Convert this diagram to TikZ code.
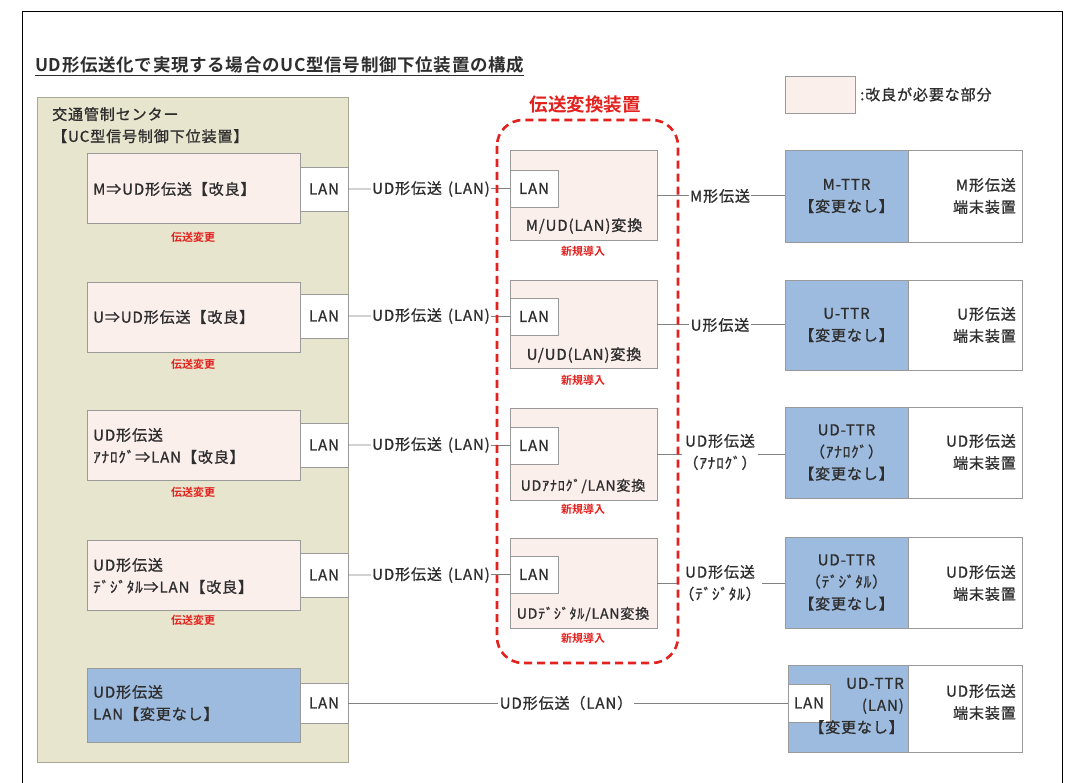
\documentclass[tikz,border=0pt]{standalone}
\usepackage{fontspec}
\newfontfamily\jp[LetterSpace=6,FakeBold=1]{Noto Sans CJK JP}
\newfontfamily\jpb{Noto Sans CJK JP Bold}
\newfontfamily\jpbt[LetterSpace=4]{Noto Sans CJK JP Bold}
\definecolor{textc}{HTML}{2E2E2E}
\definecolor{redc}{HTML}{E3211E}
\definecolor{olivefill}{HTML}{E7E5CE}
\definecolor{olivedraw}{HTML}{A9A893}
\definecolor{pinkfill}{HTML}{FBEFEC}
\definecolor{bluefill}{HTML}{9DBBDF}
\definecolor{graydraw}{HTML}{9A9A9A}
\definecolor{linec}{HTML}{808080}
\tikzset{
  boxbase/.style={inner sep=0pt, outer sep=0pt, anchor=north west, line width=0.8pt},
  olivebox/.style={boxbase, draw=olivedraw, fill=olivefill},
  pinkbox/.style={boxbase, draw=graydraw, fill=pinkfill},
  bluebox/.style={boxbase, draw=graydraw, fill=bluefill},
  whitebox/.style={boxbase, draw=graydraw, fill=white},
  txt/.style={inner sep=0pt, text=textc, font=\jp\fontsize{15}{22}\selectfont},
  smalltxt/.style={inner sep=0pt, text=textc, font=\jp\fontsize{14}{21}\selectfont},
  redtxt/.style={inner sep=0pt, text=redc, font=\jpb\fontsize{11}{13}\selectfont},
  conn/.style={draw=linec, line width=0.8pt},
  lbl/.style={txt, fill=white, inner sep=1.5pt},
}
\newcommand{\udlan}{UD形伝送\hspace{6pt}(LAN)}
\begin{document}
\begin{tikzpicture}[x=1pt,y=-1pt]
\useasboundingbox (0,0) rectangle (1069,783);
\fill[white] (0,0) rectangle (1069,783);
% page frame
\draw[line width=1pt, black] (22,800) -- (22,12) -- (1062,12) -- (1062,800);

% title
\node[inner sep=0pt, anchor=west, text=textc, font=\jpbt\fontsize{17.5}{20}\selectfont] (title) at (35,66) {\underline{UD形伝送化で実現する場合のUC型信号制御下位装置の構成}};

% legend
\node[pinkbox, minimum width=70pt, minimum height=37pt] (legbox) at (785,76) {};
\node[txt, anchor=west] (legtxt) at ([xshift=5pt]legbox.east) {:改良が必要な部分};

% left big box
\node[olivebox, minimum width=311pt, minimum height=665pt] (center) at (37,97) {};
\node[txt, anchor=north west, align=left] (centertxt) at (52,107) {交通管制センター\\【UC型信号制御下位装置】};

% ---- left rows
\node[pinkbox, minimum width=213pt, minimum height=70pt] (L1) at (87,153) {};
\node[txt, anchor=west] (L1t) at (93,189) {M⇒UD形伝送【改良】};
\node[whitebox, minimum width=48pt, minimum height=44pt] (LAN1) at (300,167) {};
\node[txt] (LAN1t) at (LAN1.center) {LAN};
\node[redtxt] (R1) at (193,237) {伝送変更};

\node[pinkbox, minimum width=213pt, minimum height=70pt] (L2) at (87,282) {};
\node[txt, anchor=west] (L2t) at (93,317) {U⇒UD形伝送【改良】};
\node[whitebox, minimum width=48pt, minimum height=44pt] (LAN2) at (300,294) {};
\node[txt] (LAN2t) at (LAN2.center) {LAN};
\node[redtxt] (R2) at (193,364) {伝送変更};

\node[pinkbox, minimum width=213pt, minimum height=70pt] (L3) at (87,410) {};
\node[txt, anchor=west, align=left] (L3t) at (93,446) {UD形伝送\\ｱﾅﾛｸﾞ⇒LAN【改良】};
\node[whitebox, minimum width=48pt, minimum height=44pt] (LAN3) at (300,423) {};
\node[txt] (LAN3t) at (LAN3.center) {LAN};
\node[redtxt] (R3) at (193,492) {伝送変更};

\node[pinkbox, minimum width=213pt, minimum height=70pt] (L4) at (87,540) {};
\node[txt, anchor=west, align=left] (L4t) at (93,576) {UD形伝送\\ﾃﾞｼﾞﾀﾙ⇒LAN【改良】};
\node[whitebox, minimum width=48pt, minimum height=44pt] (LAN4) at (300,553) {};
\node[txt] (LAN4t) at (LAN4.center) {LAN};
\node[redtxt] (R4) at (193,620) {伝送変更};

\node[bluebox, minimum width=213pt, minimum height=74pt] (L5) at (87,668) {};
\node[txt, anchor=west, align=left] (L5t) at (93,703) {UD形伝送\\LAN【変更なし】};
\node[whitebox, minimum width=48pt, minimum height=40pt] (LAN5) at (300,683) {};
\node[txt] (LAN5t) at (LAN5.center) {LAN};

% ---- middle converter boxes
\node[pinkbox, minimum width=147pt, minimum height=90pt] (M1) at (510,150) {};
\node[whitebox, minimum width=48pt, minimum height=37pt] (ML1) at (510,170) {};
\node[txt] (ML1t) at (ML1.center) {LAN};
\node[txt] (M1t) at (584,226) {M/UD(LAN)変換};
\node[redtxt] (N1) at (583,251) {新規導入};

\node[pinkbox, minimum width=147pt, minimum height=88pt] (M2) at (510,280) {};
\node[whitebox, minimum width=48pt, minimum height=37pt] (ML2) at (510,298) {};
\node[txt] (ML2t) at (ML2.center) {LAN};
\node[txt] (M2t) at (584,355) {U/UD(LAN)変換};
\node[redtxt] (N2) at (583,380) {新規導入};

\node[pinkbox, minimum width=147pt, minimum height=92pt] (M3) at (510,408) {};
\node[whitebox, minimum width=48pt, minimum height=37pt] (ML3) at (510,427) {};
\node[txt] (ML3t) at (ML3.center) {LAN};
\node[smalltxt] (M3t) at (583,486) {UDｱﾅﾛｸﾞ/LAN変換};
\node[redtxt] (N3) at (583,509) {新規導入};

\node[pinkbox, minimum width=147pt, minimum height=90pt] (M4) at (510,538) {};
\node[whitebox, minimum width=48pt, minimum height=37pt] (ML4) at (510,556) {};
\node[txt] (ML4t) at (ML4.center) {LAN};
\node[smalltxt] (M4t) at (583,614) {UDﾃﾞｼﾞﾀﾙ/LAN変換};
\node[redtxt] (N4) at (583,638) {新規導入};

% ---- right terminals
\node[bluebox, minimum width=123pt, minimum height=92pt] (T1) at (785,150) {};
\node[whitebox, minimum width=114pt, minimum height=92pt] (E1) at (908,150) {};
\node[txt, align=center] (T1t) at (T1.center) {M-TTR\\【変更なし】};
\node[txt, align=right, anchor=east] (E1t) at (1016,196) {M形伝送\\端末装置};

\node[bluebox, minimum width=123pt, minimum height=90pt] (T2) at (785,280) {};
\node[whitebox, minimum width=114pt, minimum height=90pt] (E2) at (908,280) {};
\node[txt, align=center] (T2t) at (T2.center) {U-TTR\\【変更なし】};
\node[txt, align=right, anchor=east] (E2t) at (1016,325) {U形伝送\\端末装置};

\node[bluebox, minimum width=123pt, minimum height=91pt] (T3) at (785,407) {};
\node[whitebox, minimum width=114pt, minimum height=91pt] (E3) at (908,407) {};
\node[txt, align=center] (T3t) at (T3.center) {UD-TTR\\（ｱﾅﾛｸﾞ）\\【変更なし】};
\node[txt, align=right, anchor=east] (E3t) at (1016,452) {UD形伝送\\端末装置};

\node[bluebox, minimum width=123pt, minimum height=91pt] (T4) at (785,537) {};
\node[whitebox, minimum width=114pt, minimum height=91pt] (E4) at (908,537) {};
\node[txt, align=center] (T4t) at (T4.center) {UD-TTR\\（ﾃﾞｼﾞﾀﾙ）\\【変更なし】};
\node[txt, align=right, anchor=east] (E4t) at (1016,583) {UD形伝送\\端末装置};

\node[bluebox, minimum width=120pt, minimum height=87pt] (T5) at (788,665) {};
\node[whitebox, minimum width=114pt, minimum height=87pt] (E5) at (908,665) {};
\node[whitebox, minimum width=42pt, minimum height=38pt] (TL5) at (788,684) {};
\node[txt] (TL5t) at (TL5.center) {LAN};
\node[txt, align=right, anchor=east] (T5t) at (904,706) {UD-TTR\\(LAN)\\【変更なし】};
\node[txt, align=right, anchor=east] (E5t) at (1016,702) {UD形伝送\\端末装置};

% ---- connectors left -> middle
\foreach \i in {1,2,3,4}{
  \draw[conn] (LAN\i.east) -- (ML\i.west);
}
\node[lbl] (C1) at (431,189) {\udlan};
\node[lbl] (C2) at (431,316) {\udlan};
\node[lbl] (C3) at (431,445) {\udlan};
\node[lbl] (C4) at (431,575) {\udlan};

% ---- connectors middle -> right
\foreach \i in {1,2,3,4}{
  \draw[conn] (M\i.east) -- (M\i.east -| T\i.west);
}
\node[lbl] (D1) at (720,196) {M形伝送};
\node[lbl] (D2) at (720,325) {U形伝送};
\node[lbl, align=center] (D3) at (720,452) {UD形伝送\\（ｱﾅﾛｸﾞ）};
\node[lbl, align=center] (D4) at (720,583) {UD形伝送\\（ﾃﾞｼﾞﾀﾙ）};

% ---- bottom row connector
\draw[conn] (LAN5.east) -- (TL5.west);
\node[lbl] (C5) at (566,703) {UD形伝送（LAN）};

% ---- converter group frame and title (on top)
\node[inner sep=0pt, text=redc, font=\jpb\fontsize{18.5}{22}\selectfont] (convtitle) at (585,104) {伝送変換装置};
\draw[redc, line width=2.6pt, dash pattern=on 8pt off 5pt, rounded corners=26pt] (497,120) rectangle (678,663);
\end{tikzpicture}
\end{document}
